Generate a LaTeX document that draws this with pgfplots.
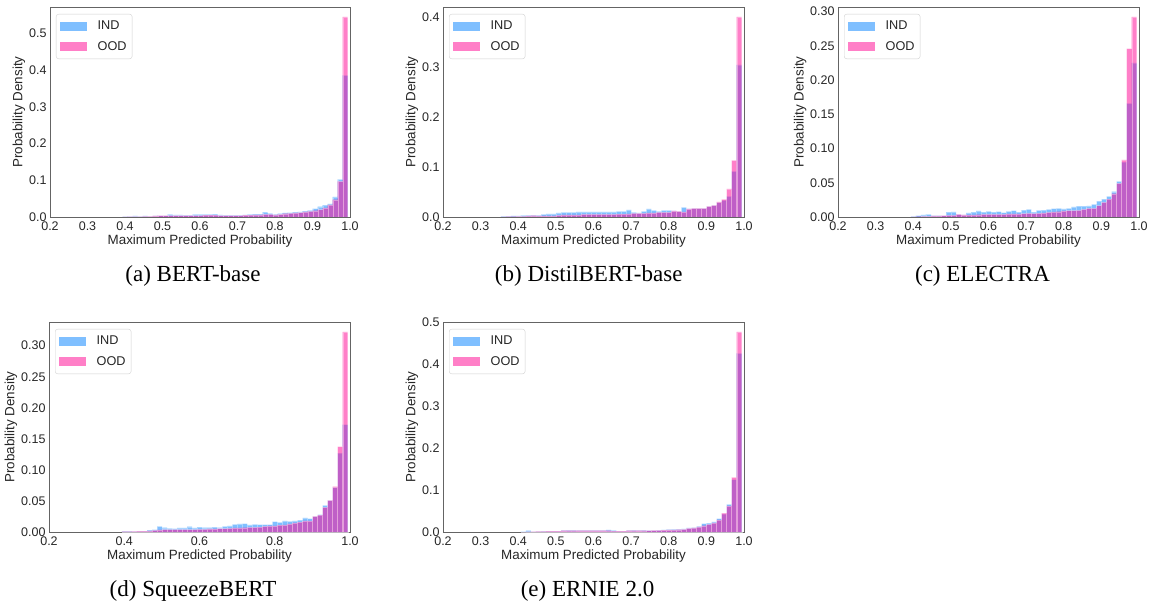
\documentclass[border=0pt]{standalone}
\usepackage{fontspec}
\setmainfont{Liberation Sans}
\newfontfamily\capserif{Liberation Serif}
\usepackage{pgfplots}
\usepackage{pgfplotstable}
\pgfplotsset{compat=1.18}

\definecolor{indc}{RGB}{0,128,255}
\definecolor{oodc}{RGB}{255,0,145}
\definecolor{axgray}{RGB}{100,100,100}
\definecolor{txtgray}{RGB}{38,38,38}

\pgfplotstableread{
x ind ood
0.4005 0.001 0.0005
0.4138 0.002 0.001
0.4272 0.003 0.001
0.4405 0.002 0.001
0.4538 0.003 0.002
0.4672 0.002 0.002
0.4805 0.003 0.003
0.4938 0.004 0.004
0.5072 0.004 0.004
0.5205 0.007 0.004
0.5338 0.006 0.004
0.5472 0.006 0.004
0.5605 0.005 0.004
0.5738 0.005 0.004
0.5872 0.007 0.004
0.6005 0.007 0.004
0.6138 0.007 0.005
0.6272 0.007 0.005
0.6405 0.008 0.005
0.6538 0.006 0.004
0.6672 0.005 0.004
0.6805 0.005 0.004
0.6938 0.005 0.004
0.7072 0.005 0.004
0.7205 0.006 0.005
0.7338 0.007 0.005
0.7472 0.008 0.006
0.7605 0.008 0.006
0.7738 0.013 0.007
0.7872 0.010 0.007
0.8005 0.007 0.006
0.8138 0.009 0.007
0.8272 0.011 0.009
0.8405 0.012 0.010
0.8538 0.013 0.011
0.8672 0.014 0.012
0.8805 0.016 0.014
0.8938 0.018 0.015
0.9072 0.023 0.017
0.9205 0.028 0.020
0.9338 0.032 0.025
0.9472 0.036 0.033
0.9605 0.055 0.047
0.9738 0.102 0.097
0.9872 0.385 0.544
}\dataA

\pgfplotstableread{
x ind ood
0.3605 0.001 0.0
0.3738 0.001 0.0005
0.3872 0.002 0.0005
0.4005 0.002 0.001
0.4138 0.003 0.001
0.4272 0.003 0.002
0.4405 0.003 0.0025
0.4538 0.003 0.002
0.4672 0.005 0.002
0.4805 0.006 0.002
0.4938 0.006 0.002
0.5072 0.008 0.003
0.5205 0.009 0.004
0.5338 0.009 0.004
0.5472 0.009 0.004
0.5605 0.010 0.004
0.5738 0.010 0.005
0.5872 0.010 0.005
0.6005 0.010 0.005
0.6138 0.010 0.005
0.6272 0.010 0.005
0.6405 0.010 0.005
0.6538 0.010 0.005
0.6672 0.011 0.0055
0.6805 0.011 0.0055
0.6938 0.014 0.006
0.7072 0.009 0.007
0.7205 0.008 0.007
0.7338 0.011 0.007
0.7472 0.016 0.008
0.7605 0.013 0.008
0.7738 0.011 0.009
0.7872 0.013 0.009
0.8005 0.013 0.009
0.8138 0.012 0.012
0.8272 0.011 0.011
0.8405 0.019 0.010
0.8538 0.016 0.016
0.8672 0.017 0.017
0.8805 0.017 0.017
0.8938 0.017 0.017
0.9072 0.021 0.021
0.9205 0.023 0.023
0.9338 0.029 0.030
0.9472 0.033 0.035
0.9605 0.041 0.056
0.9738 0.091 0.113
0.9872 0.304 0.400
}\dataB

\pgfplotstableread{
x ind ood
0.4005 0.0005 0.0
0.4138 0.002 0.0005
0.4272 0.003 0.001
0.4405 0.004 0.001
0.4538 0.002 0.0015
0.4672 0.002 0.0015
0.4805 0.002 0.002
0.4938 0.007 0.0025
0.5072 0.0074 0.0025
0.5205 0.004 0.004
0.5338 0.003 0.003
0.5472 0.006 0.003
0.5605 0.007 0.003
0.5738 0.009 0.0034
0.5872 0.007 0.004
0.6005 0.0083 0.004
0.6138 0.007 0.004
0.6272 0.008 0.004
0.6405 0.0064 0.004
0.6538 0.0083 0.0044
0.6672 0.0093 0.0044
0.6805 0.007 0.0044
0.6938 0.010 0.005
0.7072 0.011 0.0054
0.7205 0.007 0.005
0.7338 0.0098 0.0054
0.7472 0.010 0.006
0.7605 0.011 0.0069
0.7738 0.0123 0.0074
0.7872 0.0127 0.0078
0.8005 0.0118 0.0088
0.8138 0.0127 0.0093
0.8272 0.0147 0.0093
0.8405 0.0157 0.0098
0.8538 0.016 0.011
0.8672 0.0162 0.0127
0.8805 0.0186 0.0127
0.8938 0.023 0.0167
0.9072 0.026 0.0215
0.9205 0.030 0.026
0.9338 0.037 0.034
0.9472 0.052 0.049
0.9605 0.080 0.0835
0.9738 0.166 0.246
0.9872 0.225 0.292
}\dataC

\pgfplotstableread{
x ind ood
0.4005 0.001 0.0005
0.4138 0.001 0.0005
0.4272 0.001 0.001
0.4405 0.0016 0.0016
0.4538 0.0016 0.0016
0.4672 0.0032 0.002
0.4805 0.0038 0.0027
0.4938 0.009 0.0035
0.5072 0.007 0.004
0.5205 0.006 0.004
0.5338 0.0054 0.0038
0.5472 0.0065 0.0038
0.5605 0.0065 0.004
0.5738 0.0086 0.004
0.5872 0.0065 0.004
0.6005 0.008 0.0043
0.6138 0.007 0.0043
0.6272 0.007 0.005
0.6405 0.008 0.005
0.6538 0.007 0.0054
0.6672 0.009 0.0054
0.6805 0.010 0.006
0.6938 0.0124 0.0065
0.7072 0.013 0.0065
0.7205 0.0135 0.007
0.7338 0.0114 0.0076
0.7472 0.0124 0.0076
0.7605 0.012 0.008
0.7738 0.012 0.009
0.7872 0.012 0.0097
0.8005 0.0168 0.0097
0.8138 0.0157 0.011
0.8272 0.018 0.0113
0.8405 0.017 0.013
0.8538 0.018 0.0146
0.8672 0.019 0.016
0.8805 0.0227 0.018
0.8938 0.0216 0.018
0.9072 0.025 0.025
0.9205 0.028 0.027
0.9338 0.043 0.0395
0.9472 0.051 0.051
0.9605 0.072 0.073
0.9738 0.127 0.1375
0.9872 0.173 0.322
}\dataD

\pgfplotstableread{
x ind ood
0.4138 0.001 0.0
0.4272 0.003 0.0005
0.4405 0.001 0.001
0.4538 0.0015 0.0015
0.4672 0.002 0.0015
0.4805 0.002 0.002
0.4938 0.002 0.002
0.5072 0.002 0.002
0.5205 0.003 0.003
0.5338 0.004 0.003
0.5472 0.004 0.003
0.5605 0.003 0.003
0.5738 0.003 0.003
0.5872 0.003 0.003
0.6005 0.003 0.003
0.6138 0.003 0.003
0.6272 0.003 0.003
0.6405 0.005 0.003
0.6538 0.004 0.002
0.6672 0.002 0.002
0.6805 0.002 0.002
0.6938 0.003 0.003
0.7072 0.004 0.003
0.7205 0.003 0.003
0.7338 0.004 0.003
0.7472 0.004 0.0035
0.7605 0.004 0.004
0.7738 0.0045 0.004
0.7872 0.005 0.0045
0.8005 0.0056 0.0048
0.8138 0.0064 0.005
0.8272 0.0064 0.0056
0.8405 0.0072 0.0064
0.8538 0.0096 0.0088
0.8672 0.0104 0.0096
0.8805 0.0136 0.012
0.8938 0.020 0.015
0.9072 0.021 0.018
0.9205 0.024 0.022
0.9338 0.032 0.029
0.9472 0.043 0.045
0.9605 0.0656 0.062
0.9738 0.125 0.130
0.9872 0.426 0.4767
}\dataE

\pgfplotsset{
  histax/.style={
    scale only axis, width=301pt, height=210pt,
    anchor=south west,
    xmin=0.2, xmax=1.0, ymin=0,
    axis line style={draw=axgray, line width=0.9pt},
    major tick length=0pt,
    tick style={draw=none},
    /pgf/number format/assume math mode=true,
    ticklabel style={font=\fontsize{12.5}{14}\selectfont, text=txtgray},
    xtick={0.2,0.3,0.4,0.5,0.6,0.7,0.8,0.9,1.0},
    xticklabel style={yshift=-1pt, /pgf/number format/.cd, fixed, fixed zerofill, precision=1},
    xlabel={Maximum Predicted Probability},
    ylabel={Probability Density},
    label style={font=\fontsize{13.4}{15}\selectfont, text=txtgray},
    xlabel style={yshift=2pt},
    ylabel shift=-3pt,
    legend style={at={(0,1)}, anchor=north west, xshift=6pt, yshift=-7pt,
      draw=black!18, rounded corners=2.5pt, font=\fontsize{12.7}{15}\selectfont,
      text=txtgray, nodes={inner sep=1.5pt}, inner xsep=4pt, inner ysep=5.5pt, row sep=7pt,
      /tikz/every odd column/.append style={column sep=9pt}},
    legend cell align=left,
    legend image code/.code={\fill[#1, draw=none, sharp corners] (0pt,-4.5pt) rectangle (27pt,4.5pt);},
  },
  ind/.style={ybar, bar width=0.01333, bar shift=0pt, fill=indc, fill opacity=0.5,
    draw=white, draw opacity=0.35, line width=0.3pt},
  ood/.style={ybar, bar width=0.01333, bar shift=0pt, fill=oodc, fill opacity=0.5,
    draw=white, draw opacity=0.35, line width=0.3pt},
}

\begin{document}
\begin{tikzpicture}
\useasboundingbox (0,0) rectangle (1151pt,606pt);

% (a)
\begin{axis}[histax, at={(50pt,389pt)}, width=300pt, ymax=0.5712,
  ytick={0,0.1,0.2,0.3,0.4,0.5},
  yticklabel style={/pgf/number format/.cd, fixed, fixed zerofill, precision=1}]
\addplot[ind] table[x=x, y=ind] {\dataA};
\addplot[ood] table[x=x, y=ood] {\dataA};
\legend{IND, OOD}
\end{axis}

% (b)
\begin{axis}[histax, at={(443pt,389pt)}, ymax=0.42,
  ytick={0,0.1,0.2,0.3,0.4},
  yticklabel style={/pgf/number format/.cd, fixed, fixed zerofill, precision=1}]
\addplot[ind] table[x=x, y=ind] {\dataB};
\addplot[ood] table[x=x, y=ood] {\dataB};
\legend{IND, OOD}
\end{axis}

% (c)
\begin{axis}[histax, at={(838pt,389pt)}, ymax=0.3066,
  ytick={0,0.05,0.10,0.15,0.20,0.25,0.30},
  yticklabel style={/pgf/number format/.cd, fixed, fixed zerofill, precision=2}]
\addplot[ind] table[x=x, y=ind] {\dataC};
\addplot[ood] table[x=x, y=ood] {\dataC};
\legend{IND, OOD}
\end{axis}

% (d)
\begin{axis}[histax, at={(49pt,74pt)}, ymax=0.3381,
  xtick={0.2,0.4,0.6,0.8,1.0},
  ytick={0,0.05,0.10,0.15,0.20,0.25,0.30},
  yticklabel style={/pgf/number format/.cd, fixed, fixed zerofill, precision=2}]
\addplot[ind] table[x=x, y=ind] {\dataD};
\addplot[ood] table[x=x, y=ood] {\dataD};
\legend{IND, OOD}
\end{axis}

% (e)
\begin{axis}[histax, at={(443pt,74pt)}, ymax=0.5005,
  ytick={0,0.1,0.2,0.3,0.4,0.5},
  yticklabel style={/pgf/number format/.cd, fixed, fixed zerofill, precision=1}]
\addplot[ind] table[x=x, y=ind] {\dataE};
\addplot[ood] table[x=x, y=ood] {\dataE};
\legend{IND, OOD}
\end{axis}

\begin{scope}[every node/.style={anchor=base, inner sep=0pt, font=\capserif\fontsize{23}{26}\selectfont}]
\node at (193pt,324pt) {(a) BERT-base};
\node at (588.7pt,324pt) {(b) DistilBERT-base};
\node at (982.5pt,324pt) {(c) ELECTRA};
\node at (193pt,9.3pt) {(d) SqueezeBERT};
\node at (587.5pt,9.3pt) {(e) ERNIE 2.0};
\end{scope}
\end{tikzpicture}
\end{document}
